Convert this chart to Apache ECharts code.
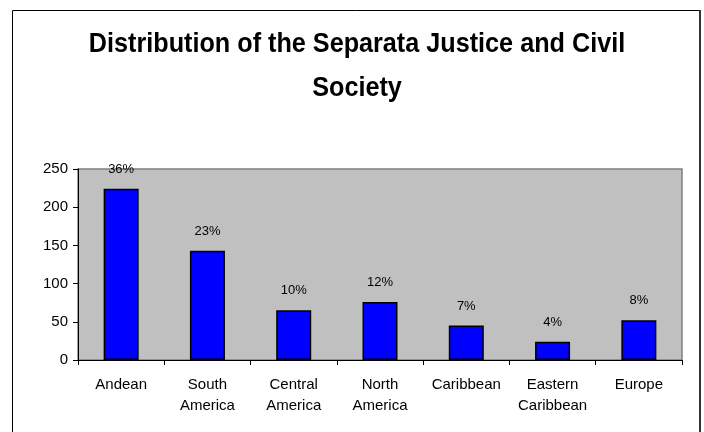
<!DOCTYPE html>
<html>
<head>
<meta charset="utf-8">
<script src="https://cdn.jsdelivr.net/npm/echarts@6/dist/echarts.min.js"></script>
<style>
html,body{margin:0;padding:0;background:#fff;}
#chart{width:704px;height:432px;}
</style>
</head>
<body>
<div id="chart"></div>
<script>
var titleLines = ['Distribution of the Separata Justice and Civil', 'Society'];
var categories = ['Andean', 'South\nAmerica', 'Central\nAmerica', 'North\nAmerica', 'Caribbean', 'Eastern\nCaribbean', 'Europe'];
var values = [224, 143, 65, 76, 45, 24, 52];
var percentLabels = ['36%', '23%', '10%', '12%', '7%', '4%', '8%'];
var yTicks = [0, 50, 100, 150, 200, 250];

var chart = echarts.init(document.getElementById('chart'), null, {renderer: 'canvas'});
var font = 'Liberation Sans, Arial, sans-serif';
var titleStyle = function (txt, y) {
  return {
    type: 'text',
    x: 357, y: y,
    scaleX: 0.9,
    silent: true,
    style: {
      text: txt, x: 0, y: 0,
      textAlign: 'center', textVerticalAlign: 'middle',
      font: 'bold 28px "Liberation Sans", Arial, sans-serif',
      fill: '#000'
    }
  };
};
chart.setOption({
  animation: false,
  backgroundColor: '#ffffff',
  graphic: [
    {
      type: 'rect',
      shape: {x: 12.5, y: 10.5, width: 687.5, height: 440},
      style: {fill: 'none', stroke: '#000', lineWidth: 1},
      silent: true
    },
    {
      type: 'line',
      shape: {x1: 700, y1: 10, x2: 700, y2: 440},
      style: {stroke: '#333', lineWidth: 2},
      silent: true
    },
    titleStyle(titleLines[0], 44),
    titleStyle(titleLines[1], 88)
  ],
  grid: {left: 78, top: 169, width: 604, height: 191, containLabel: false,
         show: true, backgroundColor: '#c0c0c0', borderColor: '#808080', borderWidth: 1.5},
  xAxis: {
    type: 'category',
    data: categories,
    boundaryGap: true,
    axisLine: {lineStyle: {color: '#000', width: 1}},
    axisTick: {show: true, inside: false, length: 5, alignWithLabel: false, lineStyle: {color: '#000'}},
    axisLabel: {fontFamily: font, fontSize: 15, color: '#000', margin: 14, lineHeight: 21, interval: 0}
  },
  yAxis: {
    type: 'value',
    min: yTicks[0],
    max: yTicks[yTicks.length - 1],
    interval: 50,
    splitLine: {show: false},
    axisLine: {show: true, lineStyle: {color: '#000', width: 1}},
    axisTick: {show: true, length: 5, lineStyle: {color: '#000'}},
    axisLabel: {fontFamily: font, fontSize: 15, color: '#000', margin: 10}
  },
  series: [{
    type: 'bar',
    data: values,
    barWidth: 35,
    itemStyle: {color: '#0000ff', borderColor: '#000', borderWidth: 1.5},
    label: {
      show: true,
      position: 'top',
      distance: 13,
      fontFamily: font,
      fontSize: 13,
      color: '#000',
      formatter: function (p) { return percentLabels[p.dataIndex]; }
    }
  }]
});
</script>
</body>
</html>
